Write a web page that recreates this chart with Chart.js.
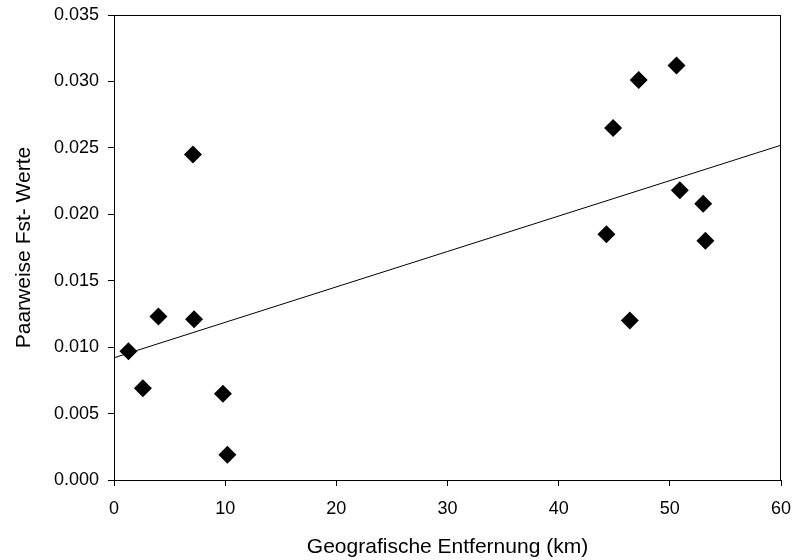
<!DOCTYPE html>
<html>
<head>
<meta charset="utf-8">
<script src="https://cdn.jsdelivr.net/npm/chart.js@4/dist/chart.umd.min.js"></script>
<style>
  html, body { margin: 0; padding: 0; background: #fff; }
  #wrap { width: 795px; height: 560px; }
</style>
</head>
<body>
<div id="wrap"><canvas id="scatter"></canvas></div>
<script>
// Geografische Entfernung (km) vs. paarweise Fst-Werte
const distKm = [1.3, 2.6, 4.0, 7.1, 7.2, 9.8, 10.2, 44.3, 44.9, 46.4, 47.2, 50.6, 50.9, 53.0, 53.2];
const fstValues = [0.0097, 0.0069, 0.0123, 0.0245, 0.0121, 0.0065, 0.0019, 0.0185, 0.0265, 0.0120, 0.0301, 0.0312, 0.0218, 0.0208, 0.0180];

// regression line, start and end
const trendX = [0, 60];
const trendY = [0.0092, 0.0252];

const ctx = document.getElementById("scatter");

Chart.defaults.font.family = "'Liberation Sans', Arial, sans-serif";
Chart.defaults.color = "#000";

// box around the plot area
const frame = {
  id: "frame",
  afterDraw(chart) {
    const { ctx, chartArea: a } = chart;
    ctx.save();
    ctx.strokeStyle = "#000";
    ctx.lineWidth = 1;
    ctx.strokeRect(a.left + 0.5, a.top + 0.5, a.right - a.left - 1, a.bottom - a.top);
    ctx.restore();
  },
};

new Chart(ctx, {
  type: "scatter",
  data: {
    datasets: [
      {
        data: distKm.map((x, i) => ({ x, y: fstValues[i] })),
        pointStyle: "rectRot",
        pointRadius: 9,
        pointHoverRadius: 9,
        backgroundColor: "#000",
        borderColor: "#000",
        borderWidth: 0,
      },
      {
        type: "line",
        data: trendX.map((x, i) => ({ x, y: trendY[i] })),
        borderColor: "#000",
        borderWidth: 1,
        pointRadius: 0,
        fill: false,
      },
    ],
  },
  options: {
    responsive: true,
    maintainAspectRatio: false,
    animation: false,
    layout: { padding: { left: 0, top: 15, right: 14, bottom: 0 } },
    plugins: { legend: { display: false }, tooltip: { enabled: false } },
    scales: {
      x: {
        type: "linear",
        min: 0,
        max: 60,
        afterFit: (s) => { s.height = 80; s.paddingLeft = 0; s.paddingRight = 0; },
        border: { color: "#000", width: 1 },
        grid: { drawOnChartArea: false, drawTicks: true, tickLength: 6, color: "#000" },
        ticks: { stepSize: 10, padding: 12, font: { size: 18 }, maxRotation: 0 },
        title: { display: true, text: "Geografische Entfernung (km)", font: { size: 21 }, padding: { top: 0, bottom: 0 } },
      },
      y: {
        min: 0,
        max: 0.035,
        afterFit: (s) => { s.width = 114; s.paddingTop = 0; s.paddingBottom = 0; },
        border: { color: "#000", width: 1 },
        grid: { drawOnChartArea: false, drawTicks: true, tickLength: 6, color: "#000" },
        ticks: { stepSize: 0.005, padding: 9, font: { size: 18 }, callback: (v) => v.toFixed(3) },
        title: { display: true, text: "Paarweise Fst- Werte", font: { size: 21 }, padding: { top: 12, bottom: 0 } },
      },
    },
  },
  plugins: [frame],
});
</script>
</body>
</html>
